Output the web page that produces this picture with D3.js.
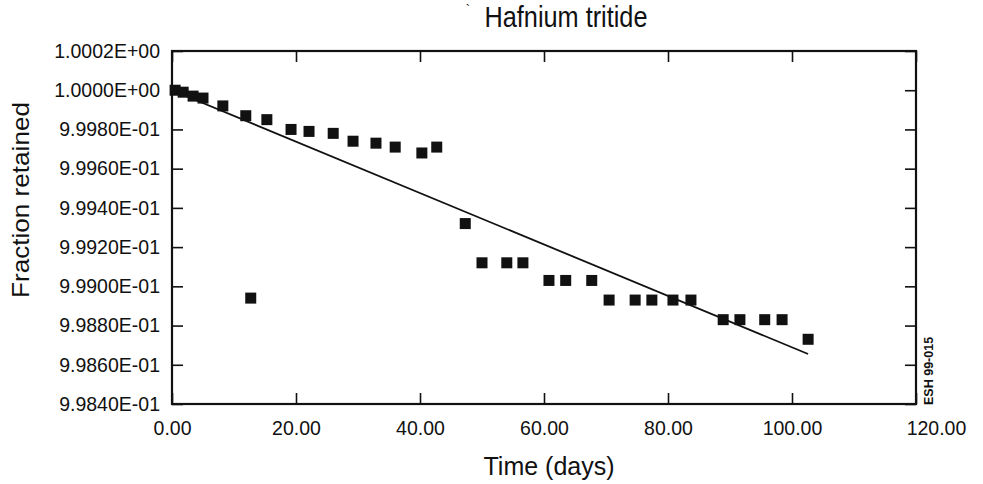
<!DOCTYPE html>
<html>
<head>
<meta charset="utf-8">
<script src="https://cdn.jsdelivr.net/npm/d3@7"></script>
<style>
  html, body { margin: 0; padding: 0; background: #fff; }
  svg { display: block; }
  text { fill: #111; font-family: "Liberation Sans", Arial, Helvetica, sans-serif; }
</style>
</head>
<body>
<svg id="chart" width="983" height="484"></svg>
<script>
// Measured release data: time in days and fraction of tritium retained
const days = [0.5, 1.8, 3.4, 5.0, 8.2, 11.9, 12.7, 15.3, 19.2, 22.1, 26.0, 29.2, 32.9, 36.0, 40.3, 42.7,
  47.3, 50.0, 54.0, 56.6, 60.8, 63.5, 67.7, 70.5, 74.7, 77.4, 80.8, 83.7, 88.9, 91.6, 95.6, 98.4, 102.6];
const retained = [1.00000, 0.99999, 0.99997, 0.99996, 0.99992, 0.99987, 0.99894, 0.99985, 0.99980, 0.99979,
  0.99978, 0.99974, 0.99973, 0.99971, 0.99968, 0.99971,
  0.99932, 0.99912, 0.99912, 0.99912, 0.99903, 0.99903, 0.99903, 0.99893, 0.99893, 0.99893, 0.99893, 0.99893,
  0.99883, 0.99883, 0.99883, 0.99883, 0.99873];

// Linear fit drawn across the measured range
const fitDays = [0, 102.6];
const fitRetained = [1.00000, 0.998655];

const xTicks = [0, 20, 40, 60, 80, 100, 120];
const yTicks = [0.9984, 0.9986, 0.9988, 0.9990, 0.9992, 0.9994, 0.9996, 0.9998, 1.0000, 1.0002];
const yTickLabels = ["9.9840E-01", "9.9860E-01", "9.9880E-01", "9.9900E-01", "9.9920E-01",
  "9.9940E-01", "9.9960E-01", "9.9980E-01", "1.0000E+00", "1.0002E+00"];

const svg = d3.select("#chart");
const plotLeft = 172, plotRight = 916, plotTop = 51, plotBottom = 404;

const x = d3.scaleLinear().domain([0, 120]).range([plotLeft, plotRight]);
const y = d3.scaleLinear().domain([0.9984, 1.0002]).range([plotBottom, plotTop]);

const tickLen = 11;
const axisFont = "19.5px";

// Bottom axis with inward ticks
const gx = svg.append("g").attr("transform", `translate(0,${plotBottom})`)
  .call(d3.axisBottom(x).tickValues(xTicks).tickSize(-tickLen).tickPadding(17)
    .tickFormat(d => d3.format(".2f")(d)));
gx.select(".domain").remove();
gx.selectAll(".tick line").attr("stroke", "#111").attr("stroke-width", 1.6);
gx.selectAll(".tick text").style("font-size", axisFont).attr("fill", "#111")
  .attr("dx", d => d === 120 ? 20 : 0);

// Top axis ticks
const gt = svg.append("g").attr("transform", `translate(0,${plotTop})`)
  .call(d3.axisTop(x).tickValues(xTicks).tickSize(-tickLen).tickFormat(""));
gt.select(".domain").remove();
gt.selectAll(".tick line").attr("stroke", "#111").attr("stroke-width", 1.6);

// Left axis with inward ticks
const gy = svg.append("g").attr("transform", `translate(${plotLeft},0)`)
  .call(d3.axisLeft(y).tickValues(yTicks).tickSize(-tickLen).tickPadding(12)
    .tickFormat((d, i) => yTickLabels[i]));
gy.select(".domain").remove();
gy.selectAll(".tick line").attr("stroke", "#111").attr("stroke-width", 1.6);
gy.selectAll(".tick text").style("font-size", axisFont).attr("fill", "#111");

// Right axis ticks
const gr = svg.append("g").attr("transform", `translate(${plotRight},0)`)
  .call(d3.axisRight(y).tickValues(yTicks).tickSize(-tickLen).tickFormat(""));
gr.select(".domain").remove();
gr.selectAll(".tick line").attr("stroke", "#111").attr("stroke-width", 1.6);

// Plot frame
svg.append("rect")
  .attr("x", plotLeft).attr("y", plotTop)
  .attr("width", plotRight - plotLeft).attr("height", plotBottom - plotTop)
  .attr("fill", "none").attr("stroke", "#111").attr("stroke-width", 2.2);

// Fit line
const line = d3.line().x(d => x(d[0])).y(d => y(d[1]));
svg.append("path")
  .datum(fitDays.map((d, i) => [d, fitRetained[i]]))
  .attr("d", line)
  .attr("fill", "none").attr("stroke", "#111").attr("stroke-width", 1.8);

// Square markers
const size = 11;
svg.append("g").selectAll("rect")
  .data(days.map((d, i) => [d, retained[i]]))
  .join("rect")
  .attr("x", d => x(d[0]) - size / 2)
  .attr("y", d => y(d[1]) - size / 2)
  .attr("width", size).attr("height", size)
  .attr("fill", "#111");

// Titles (narrow title face approximated by fitting the text length)
svg.append("text").attr("x", 566).attr("y", 27).attr("text-anchor", "middle")
  .attr("textLength", 163).attr("lengthAdjust", "spacingAndGlyphs")
  .style("font-size", "29px").text("Hafnium tritide");
svg.append("text").attr("x", 468).attr("y", 14).attr("text-anchor", "middle")
  .style("font-size", "13px").text("`");

svg.append("text").attr("x", 549).attr("y", 475).attr("text-anchor", "middle")
  .style("font-size", "25px").text("Time (days)");

svg.append("text")
  .attr("transform", "translate(29,200) rotate(-90)")
  .attr("text-anchor", "middle")
  .attr("textLength", 196).attr("lengthAdjust", "spacingAndGlyphs")
  .style("font-size", "24px").text("Fraction retained");

svg.append("text")
  .attr("transform", "translate(933,405) rotate(-90)")
  .attr("text-anchor", "start")
  .style("font-size", "12.5px").style("font-weight", "bold")
  .text("ESH 99-015");
</script>
</body>
</html>
